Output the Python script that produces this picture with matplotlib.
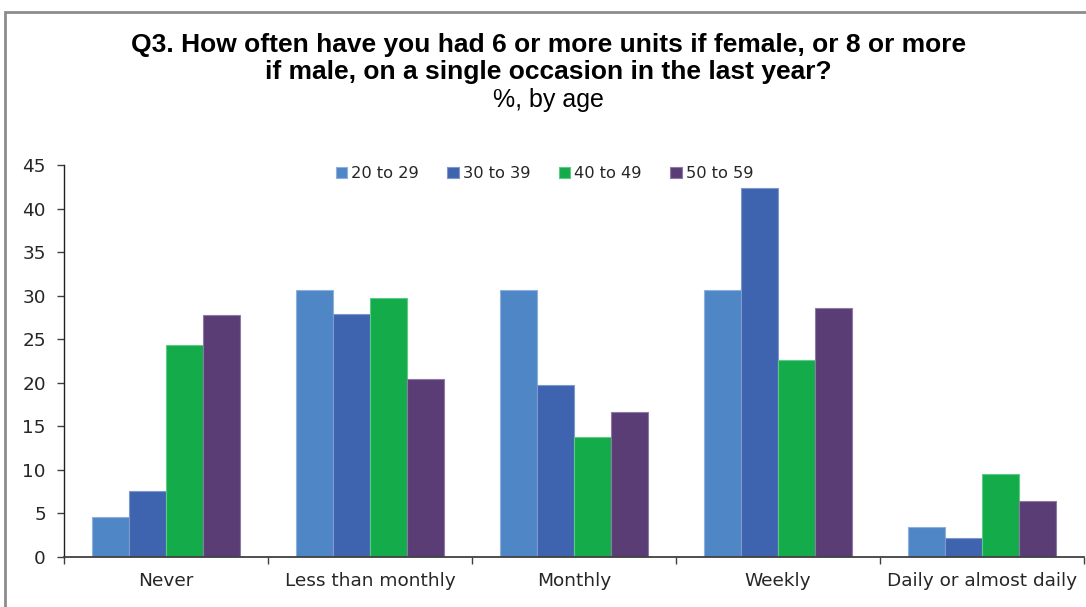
import matplotlib.pyplot as plt
import numpy as np
from matplotlib.patches import Rectangle

categories = ["Never", "Less than monthly", "Monthly", "Weekly", "Daily or almost daily"]
age_groups = ["20 to 29", "30 to 39", "40 to 49", "50 to 59"]
v_20_29 = [4.6, 30.6, 30.6, 30.6, 3.5]
v_30_39 = [7.6, 27.9, 19.7, 42.4, 2.2]
v_40_49 = [24.3, 29.7, 13.8, 22.6, 9.5]
v_50_59 = [27.8, 20.4, 16.7, 28.6, 6.4]
series = [v_20_29, v_30_39, v_40_49, v_50_59]
colors = ["#4F86C6", "#3F64AF", "#14AB4B", "#5A3D75"]
edge_colors = ["#8DB0DC", "#7F97CB", "#5CCB86", "#8E7AA6"]

plt.rcParams["font.family"] = ["Liberation Sans", "DejaVu Sans"]
tick_font = ["DejaVu Sans"]

fig = plt.figure(figsize=(10.86, 6.07), dpi=100)

# outer chart frame
fig.patches.append(Rectangle((5 / 1086, -0.05), 1.2, 1 - 12 / 607 + 0.05,
                             transform=fig.transFigure, fill=False,
                             edgecolor="#8C8C8C", linewidth=2.0))

ax = fig.add_axes([64 / 1086, 1 - 557 / 607, 1020 / 1086, 392 / 607])

x = np.arange(len(categories))
bw = 0.181
offsets = (np.arange(len(series)) - 1.5) * bw
for i, (vals, c, ec) in enumerate(zip(series, colors, edge_colors)):
    ax.bar(x + offsets[i], vals, width=bw, color=c, edgecolor=ec,
           linewidth=0.8, label=age_groups[i], zorder=2)

ax.set_xlim(-0.5, len(categories) - 0.5)
ax.set_ylim(0, 45)
ax.set_yticks(np.arange(0, 46, 5))
ax.tick_params(axis="y", labelsize=13.3, length=5, width=1, color="#404040",
               labelcolor="#262626", pad=8)

ax.set_xticks(x)
ax.set_xticklabels(categories)
ax.set_xticks(np.arange(-0.5, len(categories)), minor=True)
ax.tick_params(axis="x", which="major", length=0, labelsize=13.3,
               labelcolor="#262626", pad=11)
ax.tick_params(axis="x", which="minor", length=5, width=1, color="#404040")
for lbl in ax.get_xticklabels() + ax.get_yticklabels():
    lbl.set_family(tick_font)

for side in ["top", "right"]:
    ax.spines[side].set_visible(False)
ax.spines["left"].set_color("#202020")
ax.spines["bottom"].set_color("#404040")
ax.spines["left"].set_linewidth(1.0)
ax.spines["bottom"].set_linewidth(1.3)

ax.legend(loc="upper center", bbox_to_anchor=(0.471, 1.035), ncol=4,
          frameon=False, prop={"family": tick_font, "size": 11.7},
          handlelength=0.7, handleheight=0.7,
          handletextpad=0.25, columnspacing=1.75, labelcolor="#262626")

fig.text(0.505, 1 - 45 / 607,
         "Q3. How often have you had 6 or more units if female, or 8 or more",
         ha="center", va="center", fontsize=19, fontweight="bold")
fig.text(0.505, 1 - 72 / 607,
         "if male, on a single occasion in the last year?",
         ha="center", va="center", fontsize=19, fontweight="bold")
fig.text(0.505, 1 - 100 / 607, "%, by age",
         ha="center", va="center", fontsize=18)

fig.savefig("out.png", dpi=100)
